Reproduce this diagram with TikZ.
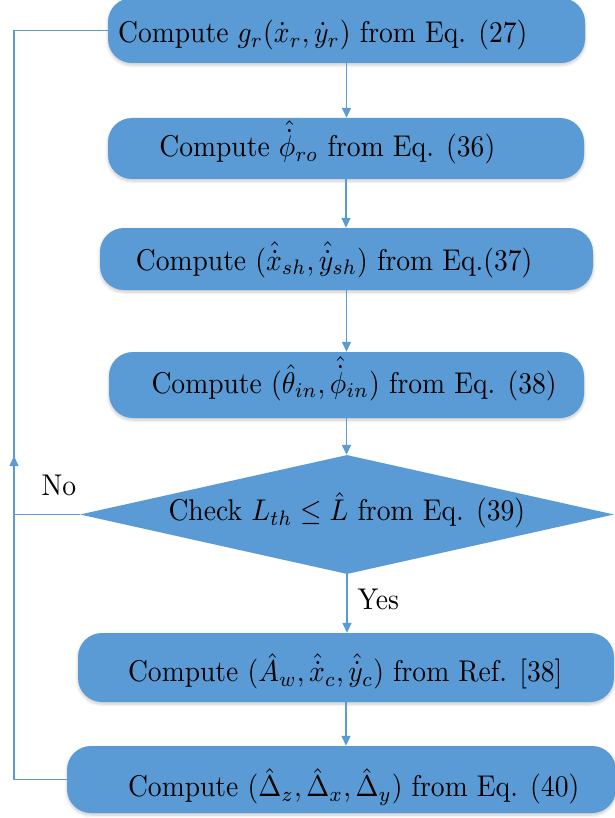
\documentclass[tikz,border=0pt]{standalone}
\usepackage{amsmath}
\usetikzlibrary{shapes.geometric,arrows.meta,shadows.blur}
\definecolor{flowblue}{RGB}{91,155,213}
\tikzset{
  softshadow/.style={blur shadow={shadow xshift=0pt, shadow yshift=-2pt,
      shadow blur radius=3pt, shadow blur steps=6, shadow opacity=22}},
  proc/.style={rectangle, fill=flowblue, draw=none, rounded corners=24pt,
      inner sep=0pt, softshadow},
  decide/.style={diamond, fill=flowblue, draw=none, inner sep=0pt},
  txt/.style={anchor=base west, xscale=2.76, yscale=3, inner sep=0pt, text=black},
  link/.style={draw=flowblue, line width=1.5pt},
  arr/.style={link, -{Triangle[length=10pt,width=9pt]}},
}
\begin{document}
\begin{tikzpicture}[x=1pt,y=-1pt]
\useasboundingbox (0,0) rectangle (614,818);

% boxes of the flow
\node[proc, minimum width=477pt, minimum height=65pt] (b1) at (346.5,30.5) {};
\node[proc, minimum width=476pt, minimum height=61pt] (b2) at (346,148.5) {};
\node[proc, minimum width=493pt, minimum height=62pt] (b3) at (346.5,259) {};
\node[proc, minimum width=475pt, minimum height=66pt] (b4) at (346.5,385) {};
\node[decide, minimum width=534pt, minimum height=119pt] (dm) at (347,514.5) {};
\node[proc, minimum width=536pt, minimum height=69pt] (b5) at (346,667.5) {};
\node[proc, minimum width=549pt, minimum height=67pt] (b6) at (341.5,779.5) {};

% texts
\node[txt] (t1) at (117.6,43) {Compute $g_r(\dot{x}_r,\dot{y}_r)$ from Eq. (27)};
\node[txt] (t2) at (158.8,157) {Compute $\hat{\dot{\phi}}_{ro}$ from Eq. (36)};
\node[txt] (t3) at (135.3,270) {Compute $(\hat{\dot{x}}_{sh},\hat{\dot{y}}_{sh})$ from Eq.(37)};
\node[txt] (t4) at (151,393) {Compute $(\hat{\theta}_{in},\hat{\dot{\phi}}_{in})$ from Eq. (38)};
\node[txt] (td) at (168,520.7) {Check $L_{th}\leq\hat{L}$ from Eq. (39)};
\node[txt] (t5) at (127.5,681.7) {Compute $(\hat{A}_w,\hat{\dot{x}}_c,\hat{\dot{y}}_c)$ from Ref. [38]};
\node[txt] (t6) at (127.5,796.7) {Compute $(\hat{\Delta}_z,\hat{\Delta}_x,\hat{\Delta}_y)$ from Eq. (40)};
\node[txt] (no) at (41,495) {No};
\node[txt] (yes) at (357,609) {Yes};

% main flow
\draw[arr] (b1.south) -- (b1.south |- b2.north);
\draw[arr] (b2.south) -- (b2.south |- b3.north);
\draw[arr] (b3.south) -- (b3.south |- b4.north);
\draw[arr] (b4.south) -- (b4.south |- dm.north);
\draw[arr] (dm.south) -- (dm.south |- b5.north);
\draw[arr] (b5.south) -- (b5.south |- b6.north);

% feedback loop
\coordinate (fbx) at (14,0);
\coordinate (uptip) at (14,456);
\draw[link] (b6.west) -| (fbx |- b1.west) -- (b1.west);
\draw[link] (dm.west) -- (fbx |- dm.west);
\draw[arr] (fbx |- dm.west) -- (uptip);
\end{tikzpicture}
\end{document}
